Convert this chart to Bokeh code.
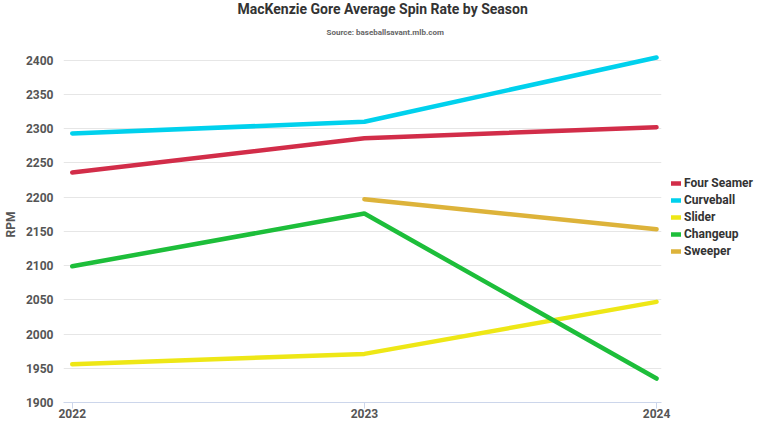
from bokeh.plotting import figure
from bokeh.models import Legend, LegendItem, Title, FixedTicker, Range1d
from bokeh.embed import file_html
from bokeh.resources import INLINE
import numpy as np

seasons = [2022, 2023, 2024]
four_seamer = [2236, 2286, 2302]
curveball = [2293, 2310, 2404]
slider = [1956, 1971, 2047]
changeup = [2099, 2176, 1935]
sweeper = [np.nan, 2197, 2153]

series = [
    ("Four Seamer", four_seamer, "#d22d49"),
    ("Curveball", curveball, "#00d1ed"),
    ("Slider", slider, "#eee716"),
    ("Changeup", changeup, "#1dbe3a"),
    ("Sweeper", sweeper, "#ddb33a"),
]
y_ticks = [1900, 1950, 2000, 2050, 2100, 2150, 2200, 2250, 2300, 2350, 2400]

FONT = "Roboto"

p = figure(frame_width=598, frame_height=356, output_backend="svg", toolbar_location=None,
           x_range=Range1d(2021.97, 2024.017), y_range=Range1d(1900, 2420),
           min_border_left=0, min_border_right=0, min_border_bottom=0,
           min_border_top=0, title=None)
p.outline_line_color = None
p.background_fill_color = "white"

sub = Title(text="Source: baseballsavant.mlb.com", align="left",
            text_font=FONT, text_font_size="8px", text_font_style="bold",
            text_color="#666666", offset=263, standoff=20)
main = Title(text="MacKenzie Gore Average Spin Rate by Season", align="left",
             text_font=FONT, text_font_size="14px", text_font_style="bold",
             text_color="#333333", offset=174, standoff=-3)
p.add_layout(sub, "above")
p.add_layout(main, "above")

items = []
for name, vals, color in series:
    r = p.line(seasons, vals, line_color=color, line_width=4.5, line_cap="round")
    items.append(LegendItem(label=name, renderers=[r]))

legend = Legend(items=items, location=(10, 143), orientation="vertical",
                label_text_font=FONT, label_text_font_size="12px",
                label_text_font_style="bold", label_text_color="#333333",
                glyph_width=10, glyph_height=16, label_height=16,
                spacing=1, padding=0, margin=0, border_line_color=None,
                background_fill_alpha=0, label_standoff=3)
p.add_layout(legend, "right")

p.xaxis.ticker = FixedTicker(ticks=seasons)
p.xaxis.axis_line_color = "#ccd6eb"
p.xaxis.major_tick_line_color = "#ccd6eb"
p.xaxis.major_tick_out = 6
p.xaxis.major_tick_in = 0
p.xaxis.minor_tick_line_color = None
p.xaxis.major_label_text_font = FONT
p.xaxis.major_label_text_font_size = "12px"
p.xaxis.major_label_text_font_style = "bold"
p.xaxis.major_label_text_color = "#555555"
p.xaxis.major_label_standoff = 0

p.yaxis.ticker = FixedTicker(ticks=y_ticks)
p.yaxis.axis_line_color = None
p.yaxis.major_tick_line_color = None
p.yaxis.minor_tick_line_color = None
p.yaxis.major_label_text_font = FONT
p.yaxis.major_label_text_font_size = "12px"
p.yaxis.major_label_text_font_style = "bold"
p.yaxis.major_label_text_color = "#555555"
p.yaxis.major_label_standoff = 4
p.yaxis.axis_label = "RPM"
p.yaxis.axis_label_text_font = FONT
p.yaxis.axis_label_text_font_size = "12px"
p.yaxis.axis_label_text_font_style = "bold"
p.yaxis.axis_label_text_color = "#555555"
p.yaxis.axis_label_standoff = 5

p.xgrid.grid_line_color = None
p.ygrid.grid_line_color = "#e6e6e6"

open("out.html", "w").write(file_html(p, INLINE))
